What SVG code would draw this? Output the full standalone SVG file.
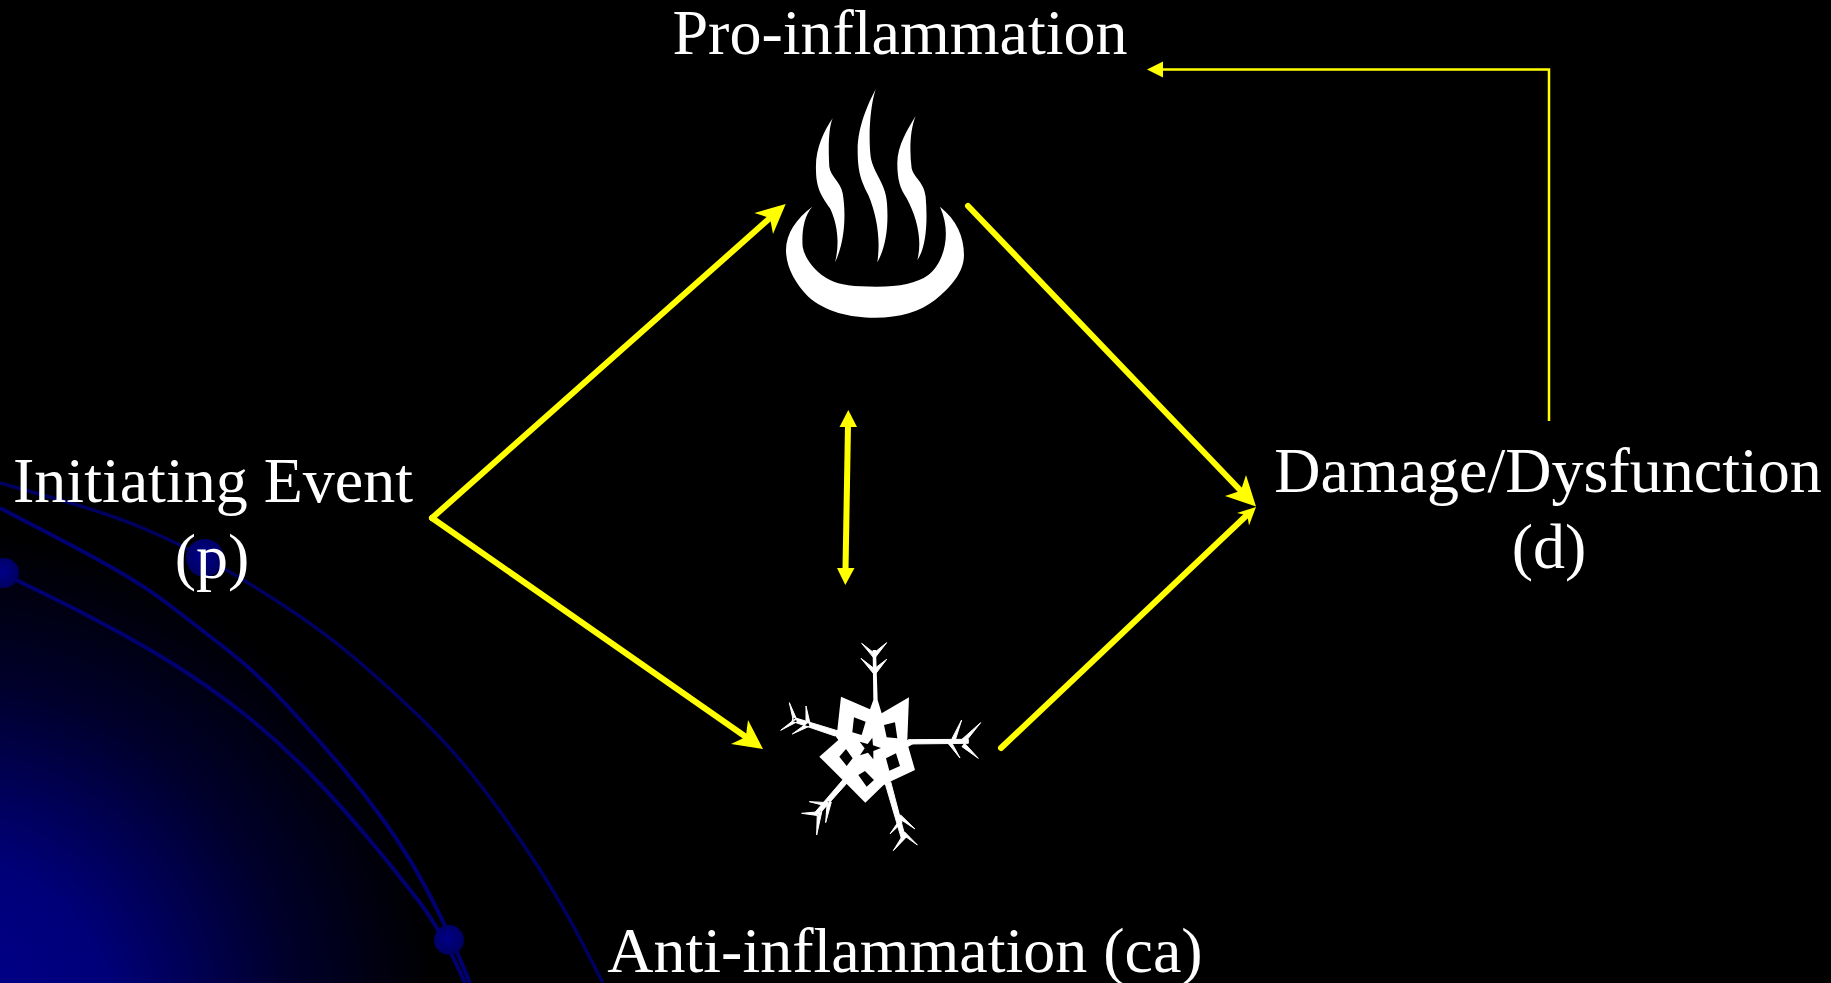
<svg xmlns="http://www.w3.org/2000/svg" width="1831" height="983" viewBox="0 0 1831 983">
<style>
text{font-family:"Liberation Serif","Times New Roman",serif;font-size:64px;fill:#fff;text-anchor:middle}
.c{fill:none;stroke:#ffff00;stroke-linecap:round}
.w{stroke-width:6}
.h{fill:#ffff00}
.r{fill:none;stroke-linejoin:round}
.g{fill:#fff}
.b{stroke:#fff;stroke-width:3;stroke-linejoin:round}
</style>
<defs>
<radialGradient id="sphere" gradientUnits="userSpaceOnUse" cx="-60" cy="1030" r="500">
<stop offset="0" stop-color="#000090"/>
<stop offset="0.35" stop-color="#000078"/>
<stop offset="0.7" stop-color="#00002c"/>
<stop offset="1" stop-color="#000"/>
</radialGradient>
<radialGradient id="ball" cx="0.45" cy="0.45" r="0.6">
<stop offset="0" stop-color="#00008a"/>
<stop offset="1" stop-color="#00005c"/>
</radialGradient>
</defs>
<rect width="1831" height="983" fill="#000"/>
<g id="background">
<rect x="0" y="500" width="620" height="483" fill="url(#sphere)"/>
<path class="r" stroke="#000060" stroke-width="3.5" d="M0,483 L53,498 Q107,513 142.5,528 Q178,543 211.5,561.5 Q245,580 284.5,606 Q324,632 354,657.5 Q384,683 415.5,713 Q447,743 472.5,775 Q498,807 526,848.5 Q554,890 575.5,930 L603,983"/>
<path class="r" stroke="#000070" stroke-width="4" d="M0,508 L67,543 Q134,578 166,602.5 Q198,627 227.5,650 Q257,673 286.5,705 Q316,737 340,765 Q364,793 385.5,823 Q407,853 427,890 Q447,927 470,983"/>
<path class="r" stroke="#000070" stroke-width="4" d="M0,572 L65,604 Q130,637 170,662 Q210,687 243.5,713.5 Q277,740 306.5,770 Q336,800 365.5,835 Q395,870 419,901.5 Q443,933 465,983"/>
<circle cx="205" cy="558" r="19" fill="url(#ball)"/>
<circle cx="4" cy="573" r="15" fill="url(#ball)"/>
<circle cx="449" cy="940" r="15" fill="url(#ball)"/>
</g>
<g id="connectors">
<path class="c w" d="M432,518 L770,218"/>
<polygon class="h" points="785.7,204 773,234 770,218 754.4,213"/>
<path class="c w" d="M432,518 L746,737"/>
<polygon class="h" points="763,749 731,744 745.8,737 748,720"/>
<path class="c w" d="M968,206 L1241,491"/>
<polygon class="h" points="1256,506.6 1225,496 1240.8,490.7 1246,475"/>
<path class="c w" d="M1001,748 L1247,515"/>
<polygon class="h" points="1256,507 1249,525.5 1247.3,515.2 1237,513"/>
<path class="c" stroke-width="6" style="stroke-linecap:butt" d="M848,425 L845.5,570"/>
<polygon class="h" points="848.3,410 857,427 839.5,427"/>
<polygon class="h" points="845.3,585 837,568 854.5,568"/>
<path class="c" stroke-width="2.5" style="stroke-linecap:butt" d="M1549,421 L1549,69.5 L1160,69.5"/>
<polygon class="h" points="1147,69.5 1163,61.5 1163,77.5"/>
</g>
<g id="pro-inflammation">
<text x="900" y="54">Pro-inflammation</text>
<g transform="translate(760,70) scale(0.3333)" class="g">
<path d="M157,410 C130,440 125,490 128,530 C135,570 170,610 210,630 C240,645 280,650 350,650 C420,650 470,640 505,615 C545,585 580,500 540,410 C590,450 612,500 612,555 C612,605 575,650 525,690 C480,725 420,743 345,743 C270,743 195,725 145,680 C105,640 78,590 78,540 C78,490 110,445 157,410 Z"/>
<path d="M218,145 C205,175 205,240 208,290 C212,320 242,335 248,370 C257,420 258,510 225,577 C240,520 232,460 210,415 C190,385 168,360 168,300 C165,240 190,185 218,145 Z"/>
<path d="M347,58 C330,110 325,200 332,260 C340,310 378,340 381,400 C386,470 378,530 352,577 C362,510 352,440 325,375 C305,335 293,310 293,240 C293,170 325,100 347,58 Z"/>
<path d="M467,138 C450,180 448,240 455,295 C462,325 492,335 497,380 C503,450 500,530 472,570 C488,510 470,440 440,385 C420,355 412,330 412,280 C412,225 445,175 467,138 Z"/>
</g>
</g>
<g id="anti-inflammation">
<text x="905" y="972">Anti-inflammation (ca)</text>
<g transform="translate(760,630) scale(0.3333)" class="g">
<path fill-rule="evenodd" d="M243,200 L330,238 L340,210 L338,60 L348,60 L353,210 L365,250 L447,202 L442,330 L470,336 L445,350 L465,420 L390,455 L370,466 L316,518 L258,460 L178,380 L235,330 L220,310 L232,300 Z
M282,262 L317,275 L305,315 L277,307 Z M372,285 L405,277 L412,325 L380,322 Z M378,385 L408,370 L420,408 L388,422 Z M295,435 L315,423 L342,450 L320,470 Z M238,380 L258,357 L278,385 L260,408 Z
M337,323 L339,346 L363,354 L340,363 L340,388 L324,368 L300,376 L314,355 L299,335 L323,342 Z"/>
<path class="b" d="M305,40 L346,72 L340,82 Z M380,38 L338,72 L346,82 Z M303,85 L348,120 L340,130 Z M380,88 L338,120 L348,130 Z"/>
<path class="b" d="M445,329 L625,328 L625,340 L445,342 Z M605,270 L586,330 L576,326 Z M662,278 L616,336 L606,328 Z M600,384 L566,342 L574,336 Z M655,385 L606,350 L614,340 Z"/>
<path class="b" d="M232,302 L100,262 L96,274 L225,318 Z M88,218 L110,268 L100,272 Z M62,301 L108,265 L112,275 Z M138,228 L150,280 L138,276 Z M97,312 L146,276 L150,288 Z"/>
<path class="b" d="M250,448 L262,458 L176,554 L166,546 Z M148,515 L206,518 L198,528 Z M197,578 L214,516 L202,512 Z M125,550 L180,545 L176,557 Z M170,615 L186,542 L172,546 Z"/>
<path class="b" d="M376,462 L392,455 L436,622 L424,625 Z M465,597 L414,563 L422,555 Z M390,612 L424,562 L426,578 Z M472,645 L426,612 L434,606 Z M400,662 L432,610 L440,620 Z"/>
</g>
</g>
<g id="initiating-event">
<text x="213" y="502">Initiating Event</text>
<text x="212" y="578">(p)</text>
</g>
<g id="damage-dysfunction">
<text x="1548" y="492">Damage/Dysfunction</text>
<text x="1549" y="568">(d)</text>
</g>
</svg>
